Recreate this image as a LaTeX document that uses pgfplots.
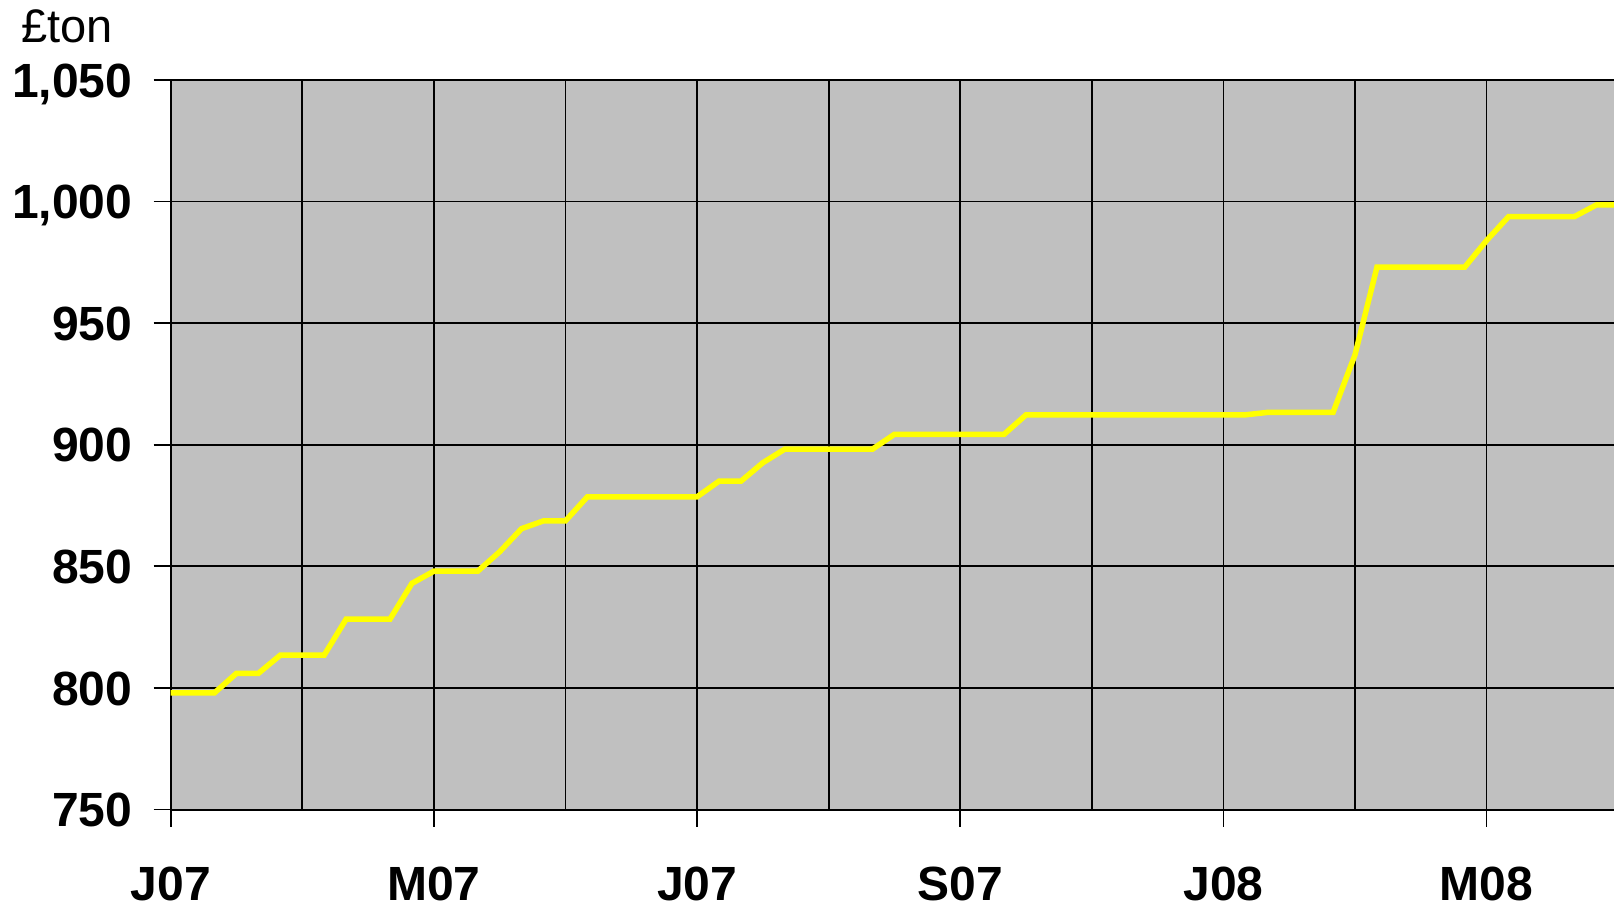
\documentclass[border=0pt]{standalone}
\usepackage{pgfplots}
\pgfplotsset{compat=1.18}
\usepackage{fontspec}
\setmainfont{Liberation Sans}
\definecolor{plotgray}{HTML}{C0C0C0}
\definecolor{lineyellow}{HTML}{FFFF00}
\begin{document}
\begin{tikzpicture}
\begin{axis}[
  at={(85.35pt,48.75pt)}, anchor=south west,
  scale only axis, width=721.65pt, height=364.75pt,
  xmin=0, xmax=65.81, ymin=750, ymax=1050,
  axis x line*=bottom, axis y line*=left,
  axis line style={black, line width=1pt},
  axis background/.style={fill=plotgray},
  xtick={0,12,24,36,48,60},
  xticklabels={J07,M07,J07,S07,J08,M08},
  minor xtick={6,18,30,42,54},
  ytick={750,800,850,900,950,1000,1050},
  yticklabels={750,800,850,900,950,{1,000},{1,050}},
  xmajorgrids, xminorgrids, ymajorgrids,
  major grid style={black, line width=0.9pt},
  minor grid style={black, line width=0.9pt},
  tick align=outside,
  major tick length=8.5pt, minor tick length=0pt,
  tick style={black, line width=0.9pt},
  yticklabel style={inner sep=0pt, anchor=base east, xshift=-10.5pt, yshift=-8.6pt, font=\fontsize{24}{24}\selectfont\bfseries},
  xticklabel style={inner sep=0pt, yshift=-20.25pt, font=\fontsize{24}{24}\selectfont\bfseries},
  /pgf/number format/assume math mode=true,
]
\addplot[lineyellow, line width=2.75pt, line join=miter] coordinates {
(0,798) (1,798) (2,798) (3,806) (4,806) (5,813.5) (6,813.5) (7,813.5)
(8,828.3) (9,828.3) (10,828.3) (11,843) (12,848) (13,848) (14,848)
(15,856) (16,865.5) (17,868.7) (18,868.7) (19,878.6) (20,878.6) (21,878.6)
(22,878.6) (23,878.6) (24,878.6) (25,885) (26,885) (27,892.6) (28,898.2)
(29,898.2) (30,898.2) (31,898.2) (32,898.2) (33,904.3) (34,904.3) (35,904.3)
(36,904.3) (37,904.3) (38,904.3) (39,912.3) (40,912.3) (41,912.3) (42,912.3)
(43,912.3) (44,912.3) (45,912.3) (46,912.3) (47,912.3) (48,912.3) (49,912.3)
(50,913.3) (51,913.3) (52,913.3) (53,913.3) (54,937) (55,973) (56,973)
(57,973) (58,973) (59,973) (60,984) (61,993.8) (62,993.8) (63,993.8)
(64,993.8) (65,998.6) (66,998.6)
};
\end{axis}
\node[anchor=base west, inner sep=0pt] at (10.3pt,432.2pt) {\fontsize{23.5}{23.5}\selectfont £ton};
\pgfresetboundingbox
\useasboundingbox (0,0) rectangle (807pt,453.5pt);
\end{tikzpicture}
\end{document}
